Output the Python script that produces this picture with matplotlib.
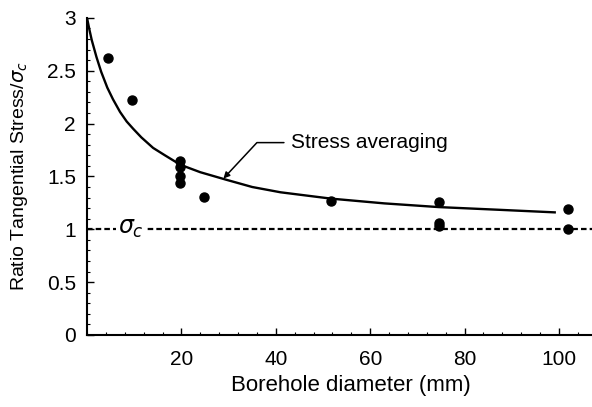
import numpy as np
import matplotlib
matplotlib.use('Agg')
import matplotlib.pyplot as plt

plt.rcParams['font.family'] = ['Liberation Sans', 'DejaVu Sans']
plt.rcParams['mathtext.fontset'] = 'dejavusans'

# measured points (borehole diameter mm, ratio)
pts_x = [4.5, 9.6, 19.8, 19.8, 19.8, 19.8, 24.7, 51.7, 74.5, 74.5, 74.5, 102, 102]
pts_y = [2.62, 2.22, 1.65, 1.59, 1.50, 1.44, 1.31, 1.27, 1.26, 1.06, 1.03, 1.19, 1.00]

# stress averaging curve
curve_x = [0, 0.25, 0.5, 1, 1.5, 2, 3, 4.3, 5.5, 7, 8.4, 9.8, 11.5, 14, 16.5, 19.8,
           24, 29.4, 35, 41, 51.7, 63, 74.5, 87, 99.1]
curve_y = [3.0, 2.945, 2.89, 2.79, 2.71, 2.63, 2.49, 2.34, 2.23, 2.11, 2.02, 1.95,
           1.87, 1.77, 1.70, 1.61, 1.54, 1.47, 1.40, 1.35, 1.29, 1.245, 1.21, 1.185, 1.16]

sigma_c = 1.0

fig = plt.figure(figsize=(5.92, 4.07), dpi=100)
ax = fig.add_axes([0.147, 0.177, 0.853, 0.779])

ax.plot(curve_x, curve_y, color='black', lw=1.7)
ax.axhline(sigma_c, color='black', lw=1.6, dashes=(2.5, 1.4))
ax.plot(pts_x, pts_y, 'o', color='black', ms=6.5)

ax.text(9.3, sigma_c, r'$\sigma_c$', fontsize=17, va='center', ha='center',
        bbox=dict(facecolor='white', edgecolor='none', pad=1.5))

ax.annotate('Stress averaging', xy=(28.9, 1.48), xytext=(43.2, 1.82),
            fontsize=15, va='center', ha='left',
            arrowprops=dict(arrowstyle='-|>', color='black', lw=1.1,
                            connectionstyle='angle,angleA=0,angleB=47,rad=0',
                            shrinkA=3, shrinkB=0, mutation_scale=9))

ax.set_xlim(0, 107)
ax.set_ylim(0, 3)
ax.set_xticks([20, 40, 60, 80, 100])
ax.set_xticks(np.arange(0, 108, 4), minor=True)
ax.set_yticks([0, 0.5, 1, 1.5, 2, 2.5, 3])
ax.set_yticklabels(['0', '0.5', '1', '1.5', '2', '2.5', '3'])
ax.set_yticks(np.arange(0, 3.01, 0.1), minor=True)
ax.tick_params(which='major', direction='in', length=5, width=1, labelsize=15)
ax.tick_params(axis='x', which='major', pad=11)
ax.tick_params(axis='y', which='major', pad=8)
ax.tick_params(which='minor', direction='in', length=2.5, width=0.8)

for s in ['top', 'right']:
    ax.spines[s].set_visible(False)
for s in ['left', 'bottom']:
    ax.spines[s].set_linewidth(1.5)

ax.set_xlabel('Borehole diameter (mm)', fontsize=16)
ax.xaxis.set_label_coords(0.523, -0.125)
ax.set_ylabel(r'Ratio Tangential Stress/$\sigma_c$', fontsize=14)
ax.yaxis.set_label_coords(-0.113, 0.5)

plt.savefig('out.png', dpi=100)
